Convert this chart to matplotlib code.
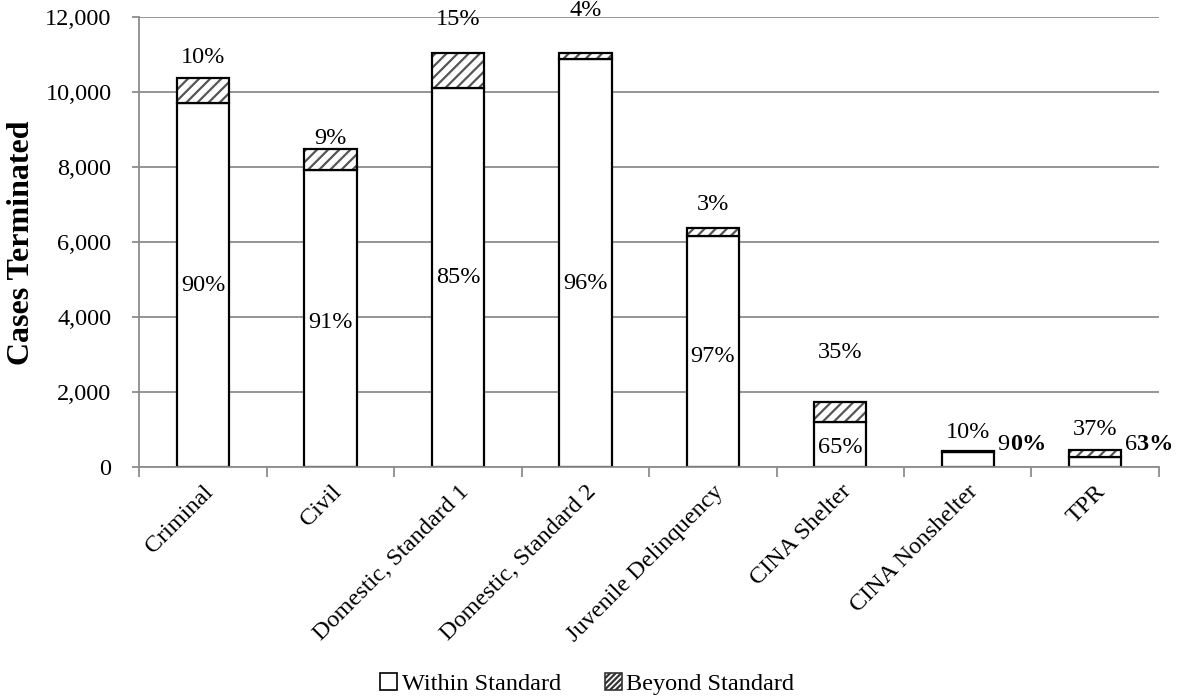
import numpy as np
import matplotlib.pyplot as plt
import matplotlib.patches as mpatches
from matplotlib.ticker import FuncFormatter

plt.rcParams['font.family'] = ['Liberation Serif', 'DejaVu Serif']
plt.rcParams['hatch.linewidth'] = 1.6

categories = ['Criminal', 'Civil', 'Domestic, Standard 1', 'Domestic, Standard 2',
              'Juvenile Delinquency', 'CINA Shelter', 'CINA Nonshelter', 'TPR']
within = [9710, 7940, 10120, 10900, 6160, 1210, 400, 270]
beyond = [660, 550, 940, 160, 230, 520, 45, 180]
pct_within = ['90%', '91%', '85%', '96%', '97%', '65%', '90%', '63%']
pct_beyond = ['10%', '9%', '15%', '4%', '3%', '35%', '10%', '37%']

# where the percentage labels sit (data units), set by hand so they clear the bars
beyond_label_y = [10920, 8780, 11930, 12190, 7020, 3050, 915, 1020]
within_label_y = [4860, 3850, 5070, 4910, 2950, 530, 595, 595]
side_labels = [6, 7]   # labels that go beside the bar instead of inside it

grey = '#8c8c8c'
fs = 17.5

fig = plt.figure(figsize=(11.91, 6.98), dpi=100)
ax = fig.add_axes([0.117, 0.3305, 0.856, 0.6447])

x = np.arange(len(categories))
w = 0.41

ax.bar(x, within, w, color='white', edgecolor='black', linewidth=1.6, zorder=2)
ax.bar(x, beyond, w, bottom=within, color='white', edgecolor='#555555',
       hatch='///', linewidth=0, zorder=2)
ax.bar(x, beyond, w, bottom=within, fill=False, edgecolor='black',
       linewidth=1.6, zorder=2.2)

for i in range(len(categories)):
    ax.text(x[i], beyond_label_y[i], pct_beyond[i], ha='center', va='center', fontsize=fs)
    if i in side_labels:
        t = ax.text(x[i] + w / 2 + 0.03, within_label_y[i], pct_within[i][0],
                    ha='left', va='center', fontsize=fs)
        ax.annotate(pct_within[i][1:], xy=(1, 0), xycoords=t, ha='left', va='bottom',
                    fontsize=fs, fontweight='bold')
    else:
        ax.text(x[i], within_label_y[i], pct_within[i], ha='center', va='center', fontsize=fs)

ax.set_xlim(-0.5, len(categories) - 0.5)
ax.set_ylim(0, 12000)
ax.set_yticks(np.arange(0, 12001, 2000))
ax.yaxis.set_major_formatter(FuncFormatter(lambda v, p: f'{int(v):,}'))
ax.set_ylabel('Cases Terminated', fontsize=23, fontweight='bold')
ax.yaxis.set_label_coords(-0.101, 0.5)

ax.set_xticks(x, categories, rotation=45, ha='right', rotation_mode='anchor')
ax.set_xticks(np.arange(-0.5, len(categories), 1), minor=True)
ax.tick_params(axis='x', which='major', length=0, pad=10, labelsize=fs)
ax.tick_params(axis='x', which='minor', length=7, width=1.3, color=grey)
ax.tick_params(axis='y', length=5, width=1.3, color=grey, labelsize=fs, pad=15)

ax.set_axisbelow(True)
ax.grid(axis='y', color=grey, linewidth=1.3)
for s in ['top', 'right']:
    ax.spines[s].set_visible(False)
for s in ['left', 'bottom']:
    ax.spines[s].set_color(grey)
    ax.spines[s].set_linewidth(1.3)

handles = [mpatches.Patch(facecolor='white', edgecolor='black', linewidth=1.2),
           mpatches.Patch(facecolor='white', edgecolor='#333333', hatch='//////',
                          linewidth=1.2)]
fig.legend(handles, ['Within Standard', 'Beyond Standard'], loc='center',
           bbox_to_anchor=(0.493, 0.02), ncol=2, frameon=False, fontsize=fs,
           handlelength=0.7, handleheight=0.7, handletextpad=0.2, columnspacing=1.8)

fig.savefig('out.png', dpi=100)
